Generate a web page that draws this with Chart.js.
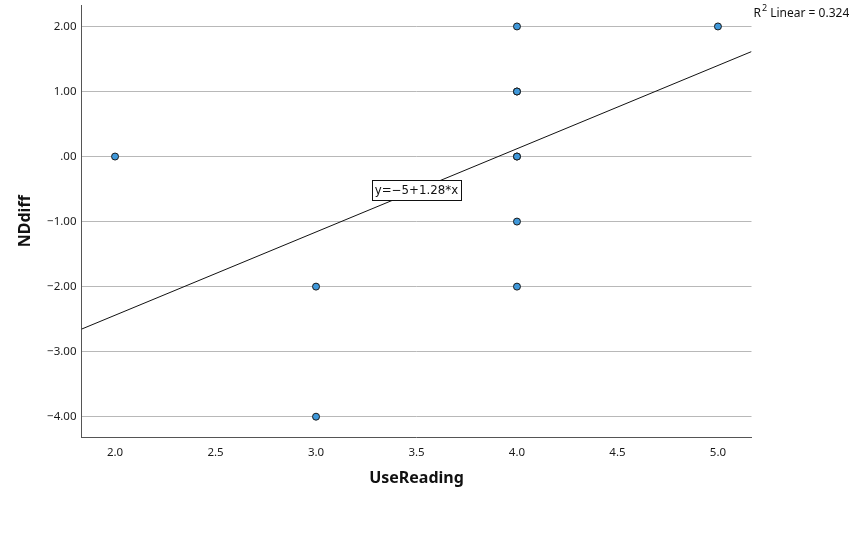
<!DOCTYPE html>
<html>
<head>
<meta charset="utf-8">
<script src="https://cdn.jsdelivr.net/npm/chart.js@4/dist/chart.umd.min.js"></script>
<style>
  html, body { margin: 0; padding: 0; background: #fff; }
  #wrap { width: 849px; height: 545px; position: relative; }
</style>
</head>
<body>
<div id="wrap"><canvas id="scatter"></canvas></div>
<script>
// --- data (overlapping cases drawn twice) ---
const useReading = [2, 3, 3, 4, 4, 4, 4, 4, 4, 4, 5];
const ndDiff     = [0, -2, -4, 2, 1, 1, 0, 0, -1, -2, 2];
const xTicks = [2.0, 2.5, 3.0, 3.5, 4.0, 4.5, 5.0];
const yTicks = [-4, -3, -2, -1, 0, 1, 2];
const fitIntercept = -5;
const fitSlope = 1.28;
const rSquared = 0.324;

const xMin = 1.833, xMax = 5.167;
const yMin = -4.32, yMax = 2.33;

const points = useReading.map((x, i) => ({ x: x, y: ndDiff[i] }));
const fitLine = [xMin, xMax].map(x => ({ x: x, y: fitIntercept + fitSlope * x }));

const FONT = '"Noto Sans", "DejaVu Sans", sans-serif';
const fmtY = v => {
    if (v === 0) return '.00';
    const s = Math.abs(v).toFixed(2);
    return (v < 0 ? '\u2212' : '') + s;
};

// axis titles, equation box and R² note
const extras = {
    id: 'extras',
    afterDraw(chart) {
        const { ctx, chartArea: a, scales } = chart;
        ctx.save();
        ctx.fillStyle = '#111';
        ctx.font = 'bold 16px ' + FONT;
        ctx.textAlign = 'center';
        ctx.textBaseline = 'middle';
        ctx.fillText('UseReading', (a.left + a.right) / 2, 478);
        ctx.save();
        ctx.translate(25, (a.top + a.bottom) / 2);
        ctx.rotate(-Math.PI / 2);
        ctx.fillText('NDdiff', 0, 0);
        ctx.restore();

        // fit equation label
        const label = 'y=\u2212' + Math.abs(fitIntercept) + '+' + fitSlope + '*x';
        const cx = scales.x.getPixelForValue(3.5);
        const cy = scales.y.getPixelForValue(-0.52);
        ctx.font = '11.8px "DejaVu Sans", sans-serif';
        const w = ctx.measureText(label).width + 6;
        const h = 20;
        ctx.fillStyle = '#fff';
        ctx.fillRect(cx - w / 2, cy - h / 2, w, h);
        ctx.strokeStyle = '#111';
        ctx.lineWidth = 1;
        ctx.strokeRect(Math.round(cx - w / 2) + 0.5, Math.round(cy - h / 2) + 0.5, Math.round(w), h);
        ctx.fillStyle = '#111';
        ctx.fillText(label, cx, cy + 1);

        // R² Linear
        ctx.textAlign = 'left';
        ctx.font = '12px ' + FONT;
        let x0 = a.right + 2;
        ctx.fillText('R', x0, 14);
        x0 += ctx.measureText('R').width + 1;
        ctx.font = '9px ' + FONT;
        ctx.fillText('2', x0, 8);
        x0 += ctx.measureText('2').width;
        ctx.font = '12px ' + FONT;
        ctx.fillText(' Linear = ' + rSquared.toFixed(3), x0, 14);
        ctx.restore();
    }
};

new Chart(document.getElementById('scatter').getContext('2d'), {
    type: 'scatter',
    data: {
        datasets: [
            {
                label: 'NDdiff',
                data: points,
                pointRadius: 3.5,
                pointHoverRadius: 3.5,
                pointBackgroundColor: '#3f98da',
                pointBorderColor: '#1b1b1b',
                pointBorderWidth: 1,
                order: 1
            },
            {
                label: 'Fit',
                type: 'line',
                data: fitLine,
                borderColor: '#111',
                borderWidth: 1,
                pointRadius: 0,
                fill: false,
                order: 2
            }
        ]
    },
    options: {
        responsive: true,
        maintainAspectRatio: false,
        animation: false,
        layout: { padding: { left: 0, right: 97.5, top: 5, bottom: 0 } },
        plugins: {
            legend: { display: false },
            tooltip: { enabled: false }
        },
        scales: {
            x: {
                type: 'linear',
                min: xMin,
                max: xMax,
                afterBuildTicks: s => { s.ticks = xTicks.map(v => ({ value: v })); },
                afterFit: s => { s.height = 107.5; s.paddingLeft = 0; s.paddingRight = 0; },
                grid: { display: false, drawTicks: false },
                border: { display: true, color: '#555', width: 1 },
                ticks: {
                    padding: 8,
                    color: '#1a1a1a',
                    font: { family: FONT, size: 11.5 },
                    callback: v => v.toFixed(1)
                }
            },
            y: {
                type: 'linear',
                min: yMin,
                max: yMax,
                afterBuildTicks: s => { s.ticks = yTicks.map(v => ({ value: v })); },
                afterFit: s => { s.width = 81.5; s.paddingTop = 0; s.paddingBottom = 0; },
                grid: { display: true, color: '#b8b8b8', lineWidth: 1, drawTicks: false },
                border: { display: true, color: '#555', width: 1 },
                ticks: {
                    padding: 5,
                    color: '#1a1a1a',
                    font: { family: FONT, size: 11.5 },
                    callback: fmtY
                }
            }
        }
    },
    plugins: [extras]
});
</script>
</body>
</html>
